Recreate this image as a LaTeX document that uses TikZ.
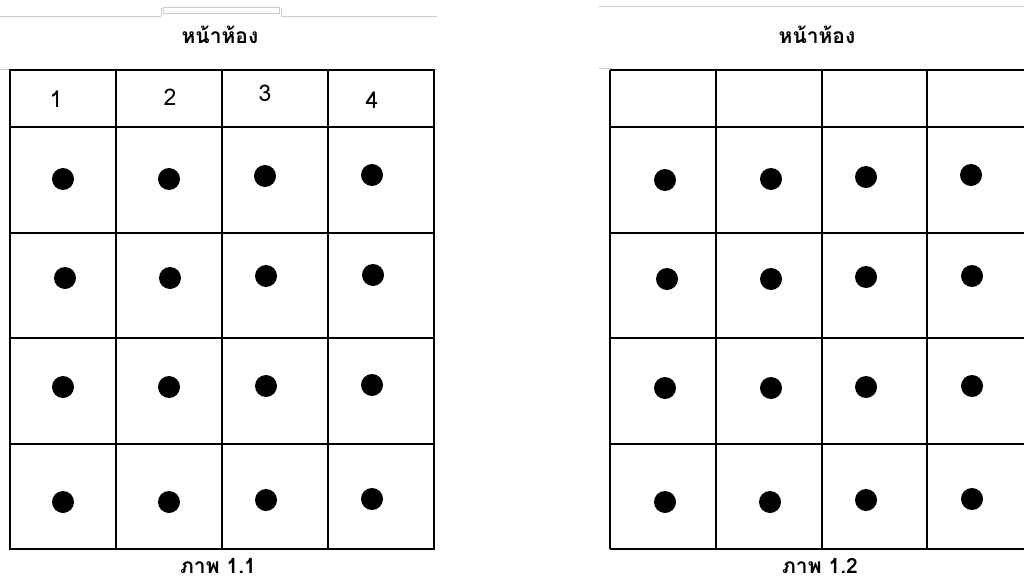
\documentclass[tikz,border=0pt]{standalone}
\usepackage{fontspec}
\newfontfamily\thaifont[Script=Thai]{Loma}
\tikzset{
  gridline/.style={line width=2.2pt, black},
  greyline/.style={line width=0.8pt, black!20},
  seat/.style={circle, fill=black, inner sep=0pt, minimum size=22pt},
  titletext/.style={font=\thaifont\bfseries\fontsize{21}{24}\selectfont, inner sep=0pt, anchor=base},
  captext/.style={titletext, text depth=0pt},
  numtext/.style={font=\thaifont\fontsize{23}{26}\selectfont, inner sep=0pt},
}
\begin{document}
\begin{tikzpicture}[x=1pt,y=-1pt]
\useasboundingbox (0,0) rectangle (1024,583);
% grey page lines
\draw[greyline] (0,16) -- (161,16) (161,16) -- (161,8) (281,8) -- (281,16) (281,16) -- (437,16);
\draw[greyline] (163,7) rectangle (279,13);
\draw[greyline] (0,69) -- (437,69);
\draw[greyline] (599,6) -- (1024,6);
\draw[greyline] (599,68) -- (612,68);
% titles
\node[titletext] (t1) at (220,44) {หน้าห้อง};
\node[titletext] (t2) at (817,44) {หน้าห้อง};
% left grid
\draw[gridline] (10,70) rectangle (434,549);
\foreach \x in {116,222,328} \draw[gridline] (\x,70) -- (\x,549);
\foreach \y in {127,233,338,444} \draw[gridline] (10,\y) -- (434,\y);
% right grid
\draw[gridline] (610,70) -- (1030,70) (610,549) -- (1030,549) (610,70) -- (610,549);
\foreach \x in {716,822,927} \draw[gridline] (\x,70) -- (\x,549);
\foreach \y in {127,233,338,444} \draw[gridline] (610,\y) -- (1030,\y);
% header numbers
\node[numtext] (n1) at (56,99) {1};
\node[numtext] (n2) at (170,97) {2};
\node[numtext] (n3) at (265,93) {3};
\node[numtext] (n4) at (372,100) {4};
% left seats
\node[seat] (a11) at (63,179) {}; \node[seat] (a12) at (169,179) {}; \node[seat] (a13) at (265,176) {}; \node[seat] (a14) at (372,175) {};
\node[seat] (a21) at (65,278) {}; \node[seat] (a22) at (170,278) {}; \node[seat] (a23) at (266,276) {}; \node[seat] (a24) at (373,275) {};
\node[seat] (a31) at (63,387) {}; \node[seat] (a32) at (169,387) {}; \node[seat] (a33) at (266,386) {}; \node[seat] (a34) at (372,385) {};
\node[seat] (a41) at (63,502) {}; \node[seat] (a42) at (169,502) {}; \node[seat] (a43) at (266,500) {}; \node[seat] (a44) at (372,499) {};
% right seats
\node[seat] (b11) at (665,180) {}; \node[seat] (b12) at (771,179) {}; \node[seat] (b13) at (866,177) {}; \node[seat] (b14) at (971,175) {};
\node[seat] (b21) at (667,279) {}; \node[seat] (b22) at (771,279) {}; \node[seat] (b23) at (866,277) {}; \node[seat] (b24) at (972,276) {};
\node[seat] (b31) at (665,388) {}; \node[seat] (b32) at (771,388) {}; \node[seat] (b33) at (866,387) {}; \node[seat] (b34) at (972,386) {};
\node[seat] (b41) at (665,502) {}; \node[seat] (b42) at (770,502) {}; \node[seat] (b43) at (866,500) {}; \node[seat] (b44) at (972,499) {};
% captions
\node[captext] (c1) at (218,573) {ภาพ 1.1};
\node[captext] (c2) at (820,573) {ภาพ 1.2};
\end{tikzpicture}
\end{document}
